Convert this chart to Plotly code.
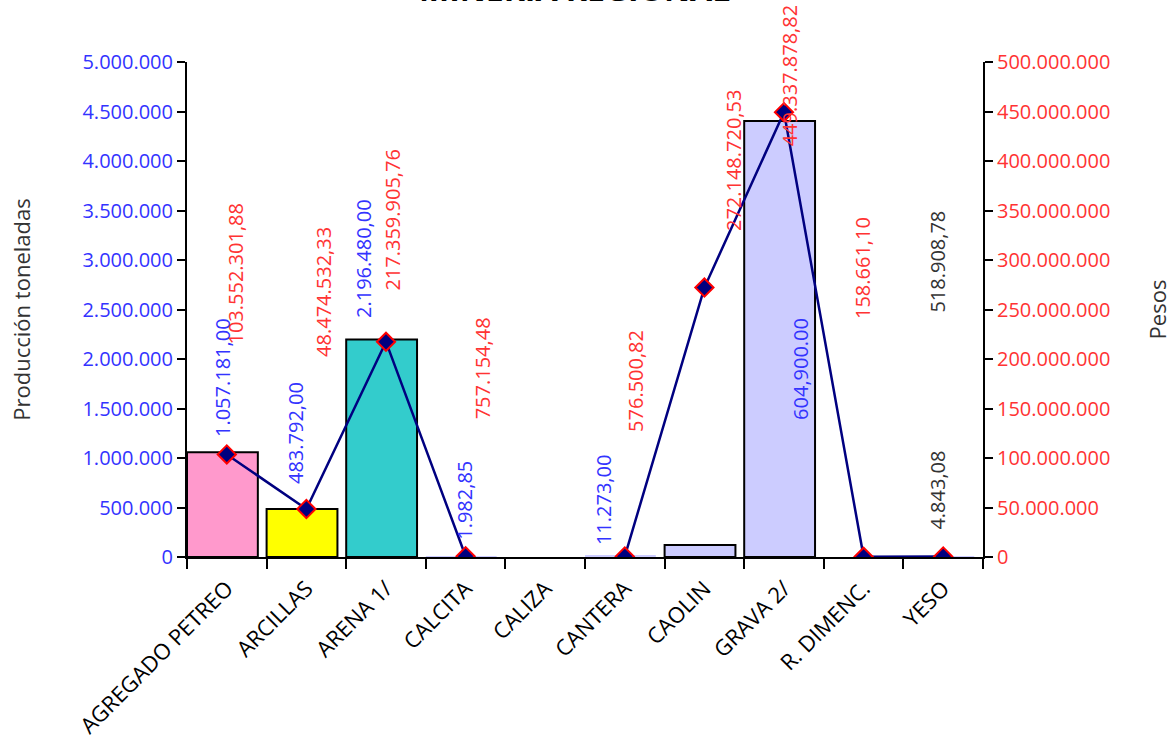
import plotly.graph_objects as go

categories = ["AGREGADO PETREO", "ARCILLAS", "ARENA 1/", "CALCITA", "CALIZA",
              "CANTERA", "CAOLIN", "GRAVA 2/", "R. DIMENC.", "YESO"]
produccion = [1057181.00, 483792.00, 2196480.00, 1982.85, None,
              11273.00, 120902.00, 4404900.00, None, 4843.08]
pesos = [103552301.88, 48474532.33, 217359905.76, 757154.48, None,
         576500.82, 272148720.53, 449337878.82, 158661.10, 518908.78]
bar_colors = ["#FF99CC", "#FFFF00", "#33CCCC", "#CCCCFF", "#CCCCFF",
              "#CCCCFF", "#CCCCFF", "#CCCCFF", "#CCCCFF", "#CCCCFF"]
bar_outline = [2, 2, 2, 0, 0, 0, 2, 2, 0, 0]

# data labels as they appear (text, colour), with their placement
label_texts = ["1.057.181,00", "103.552.301,88", "483.792,00", "48.474.532,33",
               "2.196.480,00", "217.359.905,76", "1.982,85", "757.154,48",
               "11.273,00", "576.500,82", "120.902,00", "272.148.720,53",
               "604,900.00", "449.337.878,82", "158.661,10", "518.908,78", "4.843,08"]
label_colors = ["#3333FF", "#FF3333", "#3333FF", "#FF3333",
                "#3333FF", "#FF3333", "#3333FF", "#FF3333",
                "#3333FF", "#FF3333", "#3333FF", "#FF3333",
                "#3333FF", "#FF3333", "#FF3333", "#333333", "#333333"]
label_x = [-0.06, 0.11, 0.87, 1.22, 1.71, 2.07, 2.99, 3.21,
           4.74, 5.14, 6.0, 6.36, 7.2, 7.08, 7.98, 8.93, 8.93]
label_y = [1.808e6, 2.859e6, 1.253e6, 2.677e6, 3.020e6, 3.404e6, 0.576e6, 1.909e6,
           0.576e6, 1.778e6, -0.657e6, 4.0e6, 1.899e6, 4.859e6, 2.919e6, 2.980e6, 0.677e6]

FONT = "Open Sans"

fig = go.Figure()
fig.add_trace(go.Bar(
    x=categories, y=produccion,
    marker=dict(color=bar_colors, line=dict(color="black", width=bar_outline)),
    width=0.89, offset=-0.5, yaxis="y", showlegend=False, hoverinfo="x+y"))
fig.add_trace(go.Scatter(
    x=categories, y=pesos, yaxis="y2", mode="lines+markers", connectgaps=False,
    line=dict(color="#000080", width=2.5),
    marker=dict(symbol="diamond", size=14, color="#000080", line=dict(color="#FF0000", width=2)),
    showlegend=False))

annotations = []
for t, c, xx, yy in zip(label_texts, label_colors, label_x, label_y):
    annotations.append(dict(x=xx, y=yy, xref="x", yref="y", text=t, textangle=-90,
                            showarrow=False, font=dict(family=FONT, size=20, color=c)))
annotations.append(dict(x=0.487, y=1.100, xref="paper", yref="paper", text="<b>MINERIA REGIONAL</b>",
                        showarrow=False, yanchor="bottom", font=dict(family=FONT, size=32, color="black")))

fig.update_layout(
    width=1172, height=748,
    margin=dict(l=187, r=189, t=62, b=191, autoexpand=False),
    paper_bgcolor="white", plot_bgcolor="white",
    separators=",.",
    font=dict(family=FONT, size=20, color="black"),
    xaxis=dict(type="category", showline=True, linecolor="black", linewidth=2,
               ticks="outside", tickson="boundaries", ticklen=10, tickwidth=2, tickcolor="black",
               tickangle=-45, ticklabelstandoff=8, automargin=False,
               tickfont=dict(family=FONT, size=22, color="black"),
               showgrid=False, zeroline=False, range=[-0.5, 9.5]),
    yaxis=dict(range=[0, 5000000], dtick=500000, tickformat=",d", showline=True,
               linecolor="black", linewidth=2, ticks="outside", ticklen=8, tickwidth=2,
               tickcolor="black", tickfont=dict(family=FONT, size=20, color="#3333FF"),
               showgrid=False, zeroline=False, automargin=False,
               title=dict(text="Producción toneladas", font=dict(family=FONT, size=22, color="#333333"),
                          standoff=46)),
    yaxis2=dict(range=[0, 500000000], dtick=50000000, tickformat=",d", overlaying="y",
                side="right", showline=True, linecolor="black", linewidth=2, ticks="outside",
                ticklen=8, tickwidth=2, tickcolor="black", automargin=False,
                tickfont=dict(family=FONT, size=20, color="#FF3333"),
                showgrid=False, zeroline=False,
                title=dict(text="Pesos", font=dict(family=FONT, size=22, color="#333333"),
                           standoff=42)),
    annotations=annotations,
)

fig.write_html("out.html", config={"displayModeBar": False},
               post_script="document.body.style.margin='0';document.body.style.overflow='hidden';")
